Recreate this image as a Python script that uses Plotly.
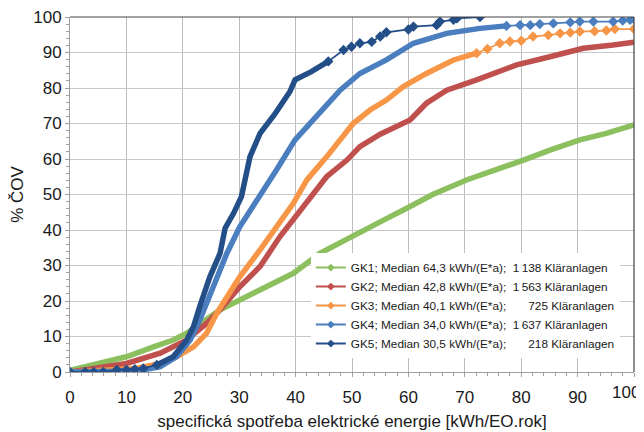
import plotly.graph_objects as go

# ---------------- data ----------------
gk1_x = [0, 4.1, 10, 14.8, 18.3, 20.7, 24.2, 26.6, 30.1, 34.9, 39.6, 44.3, 50.2, 55, 60.3, 64.3, 70.3, 75.7, 80.4, 85.1, 90.4, 95.1, 100]
gk1_y = [0.5, 2, 4.3, 7.1, 9, 10.9, 14.6, 17.5, 20.3, 24, 27.8, 33.4, 38.1, 42.3, 46.6, 50, 54.1, 56.9, 59.7, 62.5, 65.4, 67.2, 69.6]

gk2_x = [0, 4.1, 10, 16, 20.7, 24.2, 26.6, 30.1, 33.7, 37.2, 40.8, 42.8, 45.5, 49.1, 51.4, 55, 60.3, 63.2, 66.8, 72.1, 79.2, 85.1, 91, 96.3, 100]
gk2_y = [0, 1, 2.4, 5.3, 9, 13.7, 17.5, 24, 29.7, 38.1, 45.6, 50, 55, 59.7, 63.5, 67, 71, 75.7, 79.4, 82.3, 86.5, 88.8, 91.2, 92.1, 92.9]

gk3_x = [0, 5, 11.8, 16, 18.9, 21.9, 24.2, 26, 27.8, 30.1, 33.7, 36.6, 39.6, 42, 45.5, 50.2, 53.2, 56.1, 59.1, 63.2, 68, 72.1]
gk3_y = [0, 0.3, 1, 2.4, 4.3, 7.1, 10.9, 16.5, 21.2, 26.8, 34.4, 40.9, 47.5, 54.1, 60.6, 70, 73.8, 76.6, 80.4, 84.1, 87.9, 89.8]
gk3_tail_x = [72.1, 74, 76.2, 78, 80, 82.1, 84.8, 86.9, 88.7, 90.4, 93, 95.1, 96.6, 100]
gk3_tail_y = [89.8, 91, 92.6, 93.1, 93.3, 94.5, 94.9, 95.4, 95.6, 95.9, 96.0, 96.2, 96.6, 96.6]

gk4_x = [0, 4.1, 8, 13, 16, 18.9, 21.3, 23, 25.4, 27.8, 30.1, 33.7, 36.6, 39.9, 42.6, 47.9, 51.4, 56.1, 60.9, 66.8, 72.7, 77.4]
gk4_y = [0, 0, 0.2, 0.6, 1.5, 4.3, 9, 14.6, 24, 33.4, 40.9, 49.4, 56.9, 65.4, 70, 79.4, 84.1, 87.9, 92.6, 95.4, 96.8, 97.5]
gk4_tail_x = [77.4, 79.8, 81.6, 83.3, 85.7, 88.7, 90.4, 92.8, 96.3, 98, 99.3, 100]
gk4_tail_y = [97.5, 97.7, 97.7, 98, 98.2, 98.5, 98.7, 98.7, 98.7, 99, 99.2, 99.4]

gk5_low_x = [0, 2.7, 4.2, 5.9, 8.3, 10, 11.5, 13, 15.4]
gk5_low_y = [0, 0, 0, 0, 0.6, 0.6, 0.8, 1, 2]
gk5_x = [15.4, 18.3, 20.7, 21.9, 23, 24.8, 26.6, 27.5, 29, 30.4, 31.9, 33.7, 36.3, 39, 39.9, 42.8, 45.8]
gk5_y = [2, 4.3, 9, 12.8, 18.4, 26.8, 33.4, 40.5, 44.7, 49.4, 60.6, 67.2, 72.6, 79, 82.3, 84.6, 87.5]
gk5_tail_x = [45.8, 48.5, 49.9, 51.4, 53.5, 55, 56.1, 60, 60.9, 65, 65.6, 68, 68.6, 72.7]
gk5_tail_y = [87.5, 90.7, 91.6, 92.6, 93, 94.5, 95.7, 96.5, 97.3, 97.7, 98.7, 99.2, 99.6, 100]

names = [
    "GK1; Median 64,3 kWh/(E*a);  1\u2009138 Kläranlagen",
    "GK2; Median 42,8 kWh/(E*a);  1\u2009563 Kläranlagen",
    "GK3; Median 40,1 kWh/(E*a);  \u2007\u2007\u2009725 Kläranlagen",
    "GK4; Median 34,0 kWh/(E*a);  1\u2009637 Kläranlagen",
    "GK5; Median 30,5 kWh/(E*a);  \u2007\u2007\u2009218 Kläranlagen",
]
colors = ["#8CBF5E", "#C0504D", "#F79646", "#4A7EBF", "#234E88"]

x_ticks = list(range(0, 101, 10))
x_tick_labels = [str(v) for v in x_ticks]
y_ticks = list(range(0, 101, 10))

# ---------------- figure ----------------
fig = go.Figure()

dense = [(gk1_x, gk1_y), (gk2_x, gk2_y), (gk3_x, gk3_y), (gk4_x, gk4_y), (gk5_x, gk5_y)]
tails = {2: [(gk3_tail_x, gk3_tail_y)], 3: [(gk4_tail_x, gk4_tail_y)],
         4: [(gk5_low_x, gk5_low_y), (gk5_tail_x, gk5_tail_y)]}

for i, (xs, ys) in enumerate(dense):
    fig.add_trace(go.Scatter(x=xs, y=ys, mode="lines", legendgroup=f"g{i}", showlegend=False,
                             line=dict(color=colors[i], width=5.5), hoverinfo="skip"))
    for tx, ty in tails.get(i, []):
        fig.add_trace(go.Scatter(x=tx, y=ty, mode="lines+markers", legendgroup=f"g{i}", showlegend=False,
                                 line=dict(color=colors[i], width=1.8),
                                 marker=dict(symbol="diamond", size=8, color=colors[i]),
                                 hoverinfo="skip"))

# legend entries (thin line with diamond marker, as in the reference)
for i in range(5):
    fig.add_trace(go.Scatter(x=[None], y=[None], mode="lines+markers", name=names[i],
                             legendgroup=f"g{i}",
                             line=dict(color=colors[i], width=2),
                             marker=dict(symbol="diamond", size=6, color=colors[i])))

font_main = "Liberation Sans, Arial, sans-serif"

# the page adds an 8 px body margin, so the figure is sized 636x424
fig.update_layout(
    width=636, height=424,
    margin=dict(l=62, r=10, t=9, b=60),
    paper_bgcolor="white", plot_bgcolor="white",
    font=dict(family=font_main, size=17, color="#1a1a1a"),
    showlegend=True,
    legend=dict(x=0.427, y=0.335, xanchor="left", yanchor="top",
                bgcolor="white", borderwidth=0,
                font=dict(family=font_main, size=11.8, color="#1a1a1a"),
                itemwidth=30, tracegroupgap=0),
    xaxis=dict(range=[0, 100], tickvals=x_ticks, ticktext=x_tick_labels[:-1] + [""],
               showgrid=True, gridcolor="#BDBDBD", gridwidth=1,
               showline=True, linecolor="#9E9E9E", linewidth=1, zeroline=False,
               ticks="outside", ticklen=4, tickcolor="#9E9E9E", automargin=False,
               ticklabeloverflow="allow", ticklabelstandoff=6,
               minor=dict(dtick=2, ticks="outside", ticklen=3, tickcolor="#9E9E9E", showgrid=False),
               tickfont=dict(size=17),
               title=dict(text="specifická spotřeba elektrické energie [kWh/EO.rok]",
                          font=dict(size=17), standoff=8)),
    yaxis=dict(range=[0, 100], tickvals=y_ticks, showgrid=True, gridcolor="#C8C8C8", gridwidth=1,
               showline=True, linecolor="#9E9E9E", linewidth=1, zeroline=False,
               ticks="outside", ticklen=4, tickcolor="#9E9E9E", automargin=False,
               ticklabeloverflow="allow",
               minor=dict(dtick=2, ticks="outside", ticklen=3, tickcolor="#9E9E9E", showgrid=False),
               tickfont=dict(size=17),
               title=dict(text="% ČOV", font=dict(size=17), standoff=10)),
)

# last x tick label, pulled in so that it stays inside the page (as in the reference)
fig.add_annotation(x=x_ticks[-1], y=0, xref="x", yref="paper", text=x_tick_labels[-1],
                   showarrow=False, xanchor="right", yanchor="top", xshift=8, yshift=-9,
                   font=dict(size=17, color="#1a1a1a"))

# dark top and right border of the plot area
fig.add_shape(type="line", xref="paper", yref="paper", x0=0, x1=1, y0=1, y1=1,
              line=dict(color="#444444", width=1.2))
fig.add_shape(type="line", xref="paper", yref="paper", x0=1, x1=1, y0=0, y1=1,
              line=dict(color="#444444", width=1.2))

fig.write_html("out.html")
